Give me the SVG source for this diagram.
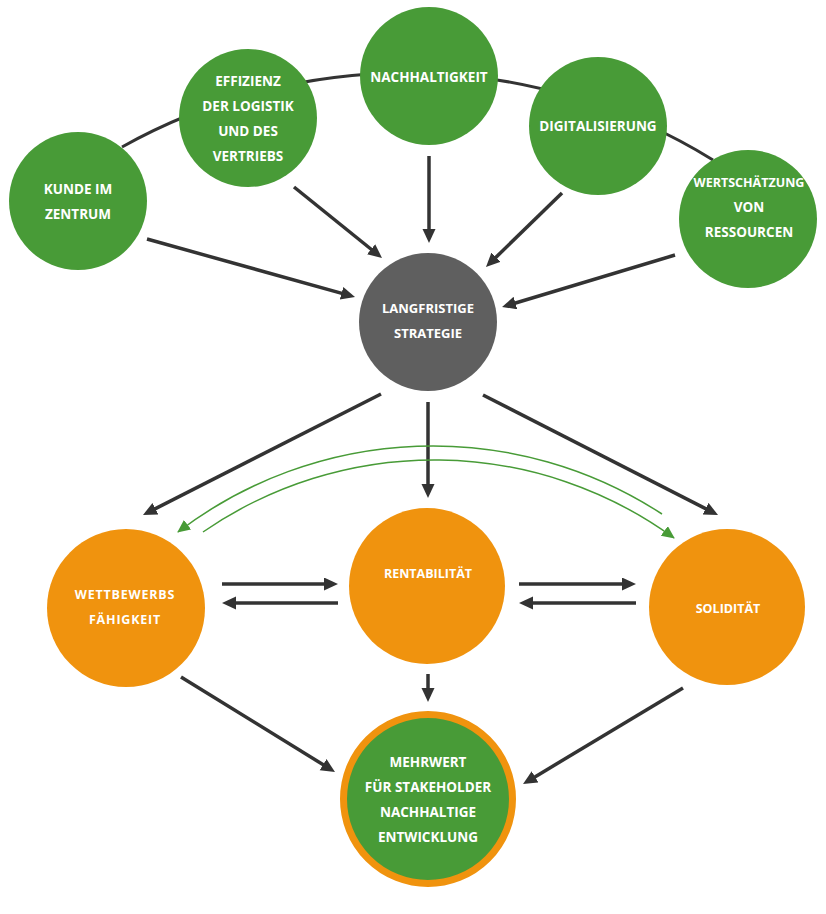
<svg xmlns="http://www.w3.org/2000/svg" width="826" height="914" viewBox="0 0 826 914">
<defs>
<style>
.g{fill:#489b37}
.o{fill:#f0930e}
.s{fill:#5f5f5f}
.t{font-family:"Open Sans","Liberation Sans",sans-serif;font-weight:bold;font-size:13.5px;fill:#fff;text-anchor:middle}
.ts{font-size:12.5px}
.sp{letter-spacing:0.8px}
.c{stroke:#333;stroke-width:3.5;fill:none;marker-end:url(#ah)}
.gc{stroke:#489b37;stroke-width:1.5;fill:none}
</style>
<marker id="ah" markerUnits="userSpaceOnUse" markerWidth="16" markerHeight="14" refX="6" refY="6.5" orient="auto">
<path d="M0,0 L14,6.5 L0,13 z" fill="#333"/>
</marker>
<marker id="gh" markerUnits="userSpaceOnUse" markerWidth="16" markerHeight="14" refX="12" refY="6" orient="auto">
<path d="M0,0 L13,6 L0,12 z" fill="#489b37"/>
</marker>
</defs>
<rect width="826" height="914" fill="#fff"/>
<g id="connectors">
<path d="M122,147 A583,583 0 0 1 713,160" stroke="#333" stroke-width="3" fill="none"/>
<line class="c" x1="147" y1="239" x2="347.3" y2="294.9"/>
<line class="c" x1="294" y1="187" x2="375.8" y2="253"/>
<line class="c" x1="429" y1="156" x2="429" y2="235"/>
<line class="c" x1="562" y1="193" x2="491.7" y2="261.4"/>
<line class="c" x1="675" y1="255" x2="509.7" y2="304.7"/>
<line class="c" x1="381" y1="394" x2="150.1" y2="511.4"/>
<line class="c" x1="428" y1="402" x2="428" y2="490"/>
<line class="c" x1="483" y1="395" x2="710.9" y2="511.4"/>
<line class="c" x1="222" y1="584" x2="330" y2="584"/>
<line class="c" x1="338" y1="603" x2="230" y2="603"/>
<line class="c" x1="519" y1="584" x2="628" y2="584"/>
<line class="c" x1="636" y1="603" x2="527" y2="603"/>
<line class="c" x1="428" y1="674" x2="428" y2="694"/>
<line class="c" x1="181" y1="677" x2="328.2" y2="767.8"/>
<line class="c" x1="683" y1="688" x2="529.9" y2="779.9"/>
<path class="gc" d="M662,514 A420,420 0 0 0 178,532" marker-end="url(#gh)"/>
<path class="gc" d="M203,532 A407,407 0 0 1 674,538" marker-end="url(#gh)"/>
</g>
<g id="kunde">
<circle class="g" cx="78" cy="201" r="69"/>
<text class="t" x="78" y="194">KUNDE IM</text>
<text class="t" x="78" y="219">ZENTRUM</text>
</g>
<g id="effizienz">
<circle class="g" cx="248" cy="118" r="69"/>
<text class="t" x="248" y="86">EFFIZIENZ</text>
<text class="t" x="248" y="111">DER LOGISTIK</text>
<text class="t" x="248" y="136">UND DES</text>
<text class="t" x="248" y="161">VERTRIEBS</text>
</g>
<g id="nachhaltigkeit">
<circle class="g" cx="429" cy="76" r="69"/>
<text class="t" x="429" y="82">NACHHALTIGKEIT</text>
</g>
<g id="digitalisierung">
<circle class="g" cx="598" cy="126" r="69"/>
<text class="t" x="598" y="131">DIGITALISIERUNG</text>
</g>
<g id="wertschaetzung">
<circle class="g" cx="748" cy="219" r="69"/>
<text class="t ts" x="749" y="187">WERTSCHÄTZUNG</text>
<text class="t" x="749" y="212">VON</text>
<text class="t" x="749" y="237">RESSOURCEN</text>
</g>
<g id="strategie">
<circle class="s" cx="428" cy="322" r="69"/>
<text class="t" x="428" y="313" style="font-size:13px">LANGFRISTIGE</text>
<text class="t" x="428" y="338" style="font-size:13px">STRATEGIE</text>
</g>
<g id="wettbewerb">
<circle class="o" cx="126" cy="608" r="79"/>
<text class="t ts sp" x="125" y="599">WETTBEWERBS</text>
<text class="t ts sp" x="125" y="624">FÄHIGKEIT</text>
</g>
<g id="rentabilitaet">
<circle class="o" cx="427" cy="586" r="78"/>
<text class="t ts" x="428" y="578">RENTABILITÄT</text>
</g>
<g id="soliditaet">
<circle class="o" cx="727" cy="607" r="78"/>
<text class="t ts" x="728" y="613">SOLIDITÄT</text>
</g>
<g id="mehrwert">
<circle class="g" cx="428" cy="799" r="84.5" stroke="#f0930e" stroke-width="7"/>
<text class="t" x="428" y="767">MEHRWERT</text>
<text class="t" x="428" y="792">FÜR STAKEHOLDER</text>
<text class="t" x="428" y="817">NACHHALTIGE</text>
<text class="t" x="428" y="842">ENTWICKLUNG</text>
</g>
</svg>
